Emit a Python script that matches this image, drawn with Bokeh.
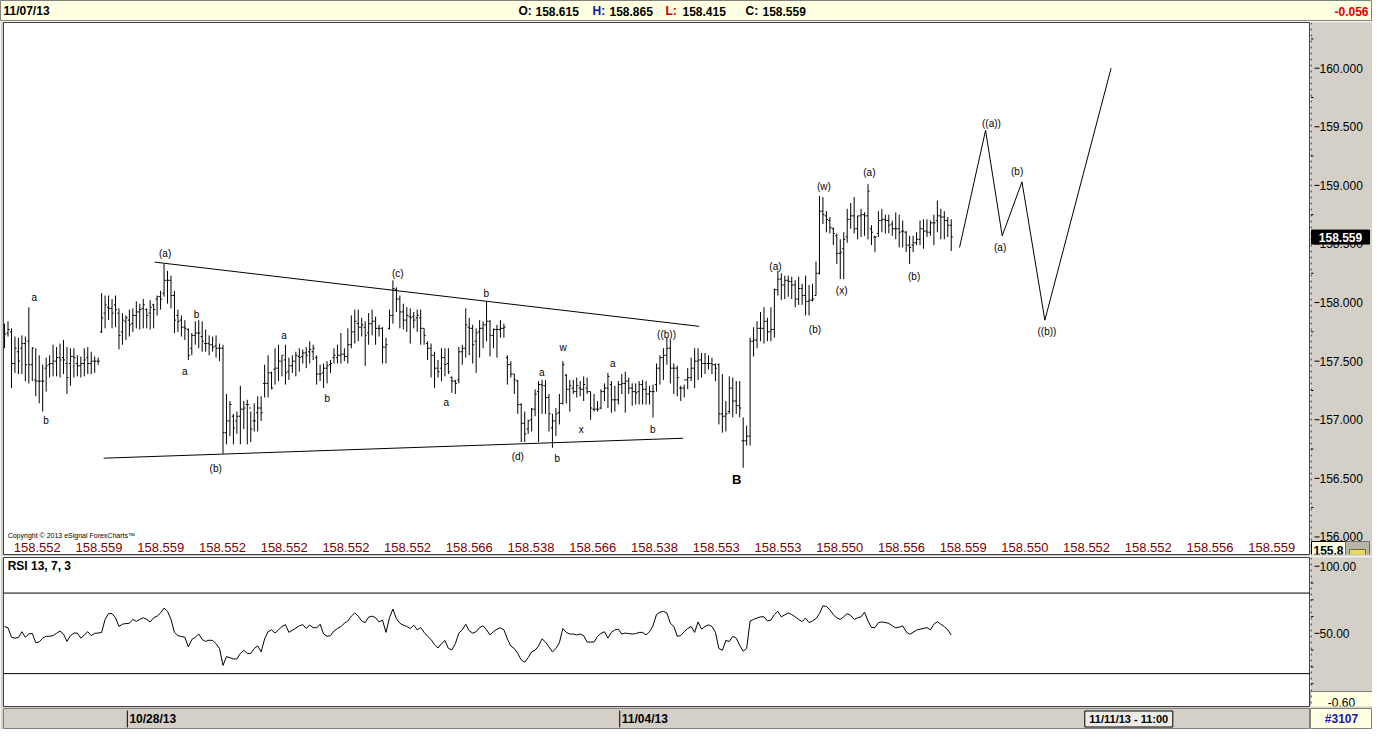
from bokeh.plotting import figure
from bokeh.layouts import column, row
from bokeh.models import Range1d, Span
from bokeh.embed import file_html
from bokeh.resources import INLINE
from bokeh.core.properties import value

# ---------------- data ----------------
opens = [
157.74,157.74,157.75,157.48,157.58,157.61,157.65,157.67,157.47,157.34,
157.33,157.33,157.44,157.47,157.48,157.50,157.53,157.53,157.48,157.48,
157.54,157.48,157.46,157.48,157.53,157.48,157.50,157.50,157.75,157.91,
157.96,157.95,157.98,157.91,157.75,157.84,157.85,157.82,157.89,157.92,
157.95,157.94,157.91,157.98,158.03,158.05,158.08,158.19,158.19,158.06,
157.89,157.85,157.79,157.77,157.61,157.72,157.74,157.71,157.65,157.65,
157.64,157.63,157.61,157.61,156.89,156.99,157.03,156.99,157.03,157.09,
157.13,157.10,156.99,157.06,157.10,157.31,157.31,157.40,157.43,157.44,
157.50,157.51,157.41,157.46,157.50,157.54,157.54,157.57,157.58,157.58,
157.53,157.39,157.40,157.44,157.47,157.53,157.53,157.55,157.56,157.54,
157.64,157.75,157.82,157.79,157.79,157.74,157.82,157.84,157.78,157.78,
157.62,157.78,157.89,158.11,158.03,157.92,157.85,157.88,157.88,157.87,
157.87,157.78,157.65,157.61,157.55,157.44,157.44,157.53,157.48,157.36,
157.33,157.34,157.58,157.61,157.79,157.78,157.67,157.75,157.78,157.81,
157.84,157.72,157.77,157.77,157.78,157.53,157.47,157.39,157.33,157.13,
156.97,156.92,157.00,157.09,157.24,157.30,157.29,157.19,156.93,156.99,
157.06,157.14,157.38,157.26,157.27,157.24,157.27,157.26,157.27,157.24,
157.09,157.09,157.10,157.24,157.27,157.30,157.17,157.17,157.30,157.31,
157.33,157.27,157.24,157.24,157.30,157.26,157.22,157.24,157.30,157.44,
157.53,157.55,157.61,157.44,157.44,157.27,157.27,157.34,157.36,157.44,
157.50,157.51,157.48,157.48,157.48,157.47,157.47,157.05,157.03,157.07,
157.27,157.16,157.12,156.82,156.82,156.86,157.67,157.68,157.78,157.78,
157.84,157.75,157.77,158.11,158.20,158.15,158.19,158.18,158.15,158.03,
158.12,158.06,158.01,158.02,158.06,158.25,158.78,158.74,158.70,158.63,
158.57,158.42,158.46,158.56,158.71,158.74,158.63,158.74,158.75,158.74,
158.63,158.56,158.59,158.70,158.71,158.70,158.67,158.63,158.63,158.61,
158.60,158.49,158.49,158.51,158.54,158.63,158.61,158.60,158.68,158.70,
158.74,158.73,158.70,158.66]

highs = [
157.82,157.84,157.78,157.71,157.70,157.72,157.71,157.96,157.62,157.61,
157.55,157.47,157.53,157.55,157.64,157.62,157.65,157.68,157.62,157.61,
157.61,157.55,157.54,157.61,157.62,157.58,157.54,157.53,158.08,158.06,
158.06,158.03,158.06,157.95,157.91,157.89,157.94,157.95,158.01,157.99,
158.03,157.95,158.02,157.99,158.06,158.10,158.33,158.27,158.23,158.10,
157.94,157.89,157.85,157.78,157.74,157.84,157.85,157.84,157.77,157.72,
157.71,157.72,157.65,157.64,157.22,157.16,157.05,157.07,157.29,157.16,
157.17,157.07,157.14,157.20,157.20,157.47,157.55,157.41,157.61,157.64,
157.55,157.64,157.53,157.55,157.58,157.61,157.60,157.62,157.67,157.64,
157.55,157.47,157.48,157.50,157.51,157.61,157.64,157.74,157.61,157.78,
157.89,157.94,157.94,157.87,157.84,157.91,157.94,157.88,157.81,157.79,
157.70,157.94,158.19,158.13,158.06,157.99,157.96,157.95,157.92,157.94,
157.94,157.78,157.67,157.65,157.58,157.51,157.61,157.61,157.61,157.37,
157.34,157.62,157.64,157.95,157.87,157.81,157.78,157.85,157.84,158.01,
157.85,157.78,157.81,157.85,157.82,157.55,157.50,157.39,157.34,157.14,
157.07,157.00,157.10,157.26,157.33,157.34,157.34,157.22,157.05,157.10,
157.22,157.50,157.39,157.34,157.34,157.36,157.33,157.37,157.36,157.24,
157.22,157.16,157.26,157.31,157.40,157.33,157.29,157.33,157.39,157.41,
157.36,157.31,157.31,157.33,157.34,157.33,157.29,157.30,157.48,157.55,
157.61,157.70,157.68,157.48,157.46,157.29,157.30,157.44,157.53,157.61,
157.61,157.57,157.57,157.55,157.53,157.48,157.48,157.39,157.16,157.37,
157.36,157.33,157.33,157.02,156.95,157.70,157.79,157.84,157.92,157.96,
157.87,157.96,158.12,158.27,158.25,158.23,158.23,158.22,158.19,158.22,
158.16,158.23,158.15,158.16,158.35,158.91,158.90,158.78,158.73,158.64,
158.59,158.54,158.60,158.80,158.85,158.90,158.74,158.80,158.77,159.01,
158.66,158.57,158.78,158.80,158.75,158.75,158.70,158.77,158.75,158.70,
158.61,158.57,158.57,158.60,158.70,158.71,158.71,158.70,158.75,158.87,
158.80,158.78,158.73,158.71]

lows = [
157.61,157.71,157.27,157.40,157.39,157.39,157.33,157.31,157.33,157.20,
157.14,157.07,157.24,157.36,157.37,157.37,157.36,157.39,157.22,157.29,
157.36,157.37,157.36,157.37,157.39,157.39,157.40,157.47,157.74,157.78,
157.85,157.78,157.79,157.60,157.64,157.68,157.71,157.75,157.78,157.77,
157.78,157.78,157.77,157.78,157.89,157.94,158.05,157.99,157.95,157.74,
157.75,157.71,157.68,157.51,157.55,157.64,157.61,157.58,157.58,157.55,
157.58,157.53,157.50,156.71,156.79,156.86,156.79,156.88,156.79,156.92,
156.79,156.81,156.90,156.90,156.99,157.19,157.19,157.26,157.30,157.33,
157.37,157.30,157.34,157.40,157.37,157.41,157.48,157.44,157.48,157.51,
157.30,157.33,157.27,157.31,157.40,157.48,157.48,157.48,157.50,157.48,
157.61,157.65,157.67,157.71,157.46,157.64,157.72,157.64,157.71,157.48,
157.48,157.77,157.82,157.92,157.78,157.77,157.75,157.65,157.78,157.75,
157.64,157.64,157.51,157.36,157.27,157.36,157.33,157.37,157.39,157.23,
157.22,157.31,157.47,157.53,157.55,157.48,157.40,157.53,157.61,157.67,
157.54,157.61,157.53,157.70,157.70,157.30,157.36,157.22,157.05,156.81,
156.81,156.88,156.90,157.03,156.81,157.05,157.05,156.90,156.76,156.86,
156.96,157.13,157.14,157.07,157.22,157.19,157.20,157.16,157.22,157.00,
157.07,157.07,157.09,157.16,157.10,157.06,157.07,157.13,157.22,157.06,
157.22,157.12,157.13,157.13,157.13,157.13,157.13,157.02,157.24,157.30,
157.34,157.47,157.31,157.22,157.20,157.16,157.19,157.26,157.33,157.27,
157.34,157.36,157.39,157.43,157.39,157.33,156.96,156.89,156.90,157.05,
157.02,157.05,157.02,156.59,156.78,156.78,157.54,157.61,157.67,157.65,
157.67,157.67,157.70,158.06,158.02,158.03,158.05,158.03,157.96,157.98,
157.98,157.89,157.89,158.01,158.06,158.24,158.67,158.60,158.59,158.49,
158.33,158.20,158.20,158.51,158.63,158.59,158.54,158.56,158.57,158.54,
158.49,158.43,158.56,158.60,158.59,158.59,158.57,158.54,158.47,158.47,
158.43,158.33,158.43,158.49,158.49,158.46,158.56,158.57,158.49,158.60,
158.54,158.54,158.56,158.44]

closes = [
157.73,157.77,157.48,157.61,157.50,157.65,157.47,157.47,157.61,157.33,
157.33,157.33,157.46,157.48,157.50,157.53,157.51,157.51,157.36,157.54,
157.53,157.46,157.48,157.51,157.48,157.50,157.50,157.50,157.87,157.98,
157.95,157.91,157.94,157.72,157.85,157.87,157.81,157.89,157.92,157.94,
157.98,157.89,157.96,157.94,158.05,158.03,158.19,158.19,158.06,157.85,
157.84,157.79,157.78,157.55,157.72,157.74,157.74,157.67,157.65,157.64,
157.62,157.61,157.61,156.89,156.99,157.13,156.93,157.03,157.09,157.10,
157.13,156.92,156.99,157.10,157.06,157.31,157.40,157.27,157.44,157.50,
157.55,157.40,157.46,157.50,157.55,157.53,157.57,157.55,157.60,157.61,
157.39,157.39,157.44,157.46,157.48,157.55,157.55,157.56,157.54,157.64,
157.75,157.84,157.79,157.81,157.72,157.82,157.84,157.78,157.78,157.62,
157.64,157.89,158.12,158.03,157.92,157.85,157.89,157.87,157.85,157.89,
157.78,157.72,157.61,157.55,157.44,157.41,157.53,157.47,157.41,157.33,
157.31,157.58,157.61,157.81,157.78,157.64,157.74,157.78,157.81,157.84,
157.72,157.77,157.77,157.78,157.79,157.47,157.39,157.34,157.13,156.97,
156.88,156.99,157.09,157.22,157.30,157.29,157.19,157.05,156.99,157.05,
157.14,157.47,157.26,157.29,157.24,157.29,157.26,157.30,157.24,157.10,
157.09,157.09,157.24,157.27,157.37,157.17,157.17,157.30,157.31,157.33,
157.27,157.24,157.23,157.30,157.26,157.22,157.24,157.24,157.44,157.53,
157.55,157.61,157.44,157.44,157.36,157.27,157.34,157.36,157.44,157.50,
157.51,157.48,157.48,157.48,157.47,157.44,157.05,157.03,157.05,157.27,
157.16,157.12,157.10,156.82,156.86,157.67,157.68,157.78,157.78,157.84,
157.75,157.77,158.11,158.20,158.15,158.19,158.18,158.15,158.03,158.12,
158.06,158.01,158.02,158.03,158.25,158.78,158.75,158.71,158.64,158.59,
158.42,158.43,158.54,158.71,158.74,158.63,158.74,158.75,158.74,158.95,
158.60,158.56,158.70,158.71,158.70,158.66,158.63,158.63,158.60,158.61,
158.49,158.47,158.51,158.54,158.63,158.61,158.60,158.68,158.68,158.74,
158.73,158.70,158.66,158.56]

rsi = [
55.1,54.1,47.1,46.4,46.9,51.2,47.1,49.5,50.0,43.0,
43.5,46.4,47.8,47.8,48.3,50.0,51.7,49.5,44.0,48.3,
50.2,50.2,46.4,48.8,51.2,48.3,50.0,50.2,50.7,60.4,
64.7,64.7,61.6,55.1,56.8,57.3,57.5,60.4,58.9,60.4,
61.6,60.4,58.5,61.6,62.8,65.2,68.8,66.4,60.4,50.7,
48.3,47.6,47.1,39.9,45.4,47.1,49.5,45.4,44.0,44.9,
44.7,42.3,38.7,26.1,32.6,31.9,30.9,30.9,35.0,37.4,
35.0,35.0,38.7,40.6,36.2,45.9,51.2,52.6,50.2,52.6,
55.1,56.5,50.7,52.4,53.9,55.6,56.5,53.6,56.1,54.3,
54.1,56.8,49.5,47.8,48.3,51.7,53.6,55.1,57.5,59.2,
62.8,65.2,62.8,59.2,58.0,62.1,62.8,61.6,58.5,59.9,
50.7,61.6,68.1,60.9,57.5,56.1,55.1,53.6,56.1,52.6,
54.3,50.7,47.8,45.4,41.5,39.1,42.3,44.7,38.7,37.7,
42.3,50.2,52.6,56.8,51.9,50.2,51.2,54.3,55.6,52.6,
48.8,51.2,53.1,54.1,52.6,45.9,40.6,38.7,35.0,30.2,
28.5,31.9,36.2,37.4,40.6,45.9,43.5,39.9,36.2,38.7,
43.0,53.6,50.7,49.5,49.5,48.8,49.5,48.3,43.5,43.5,
43.5,47.8,50.0,51.2,46.4,50.7,52.6,53.1,49.5,50.2,
49.8,49.5,49.8,50.7,50.7,48.8,51.2,55.6,64.0,65.7,
66.4,65.2,57.5,55.1,47.8,48.3,51.2,53.6,55.1,50.7,
58.5,53.1,55.1,56.3,55.1,50.7,38.7,37.4,44.7,44.0,
47.8,46.4,41.1,36.7,38.7,59.2,60.4,61.4,62.3,62.3,
59.2,59.9,64.0,66.4,62.3,63.8,65.2,64.0,62.3,60.4,
58.7,61.4,58.0,59.2,60.9,64.7,70.5,70.0,67.6,64.0,
61.4,60.4,62.3,64.7,63.3,60.4,61.6,62.3,65.7,59.2,
54.3,54.3,58.0,58.5,58.0,57.5,55.6,54.1,54.6,55.6,
51.2,49.3,50.7,52.4,53.1,53.6,54.3,52.6,56.8,58.7,
56.8,55.1,52.6,48.8]

# triangle trendlines and wave projection
upper_x = [43.3, 200.3]
upper_y = [158.345, 157.797]
lower_x = [28.6, 195.7]
lower_y = [156.672, 156.842]
proj_x = [275.4, 282.9, 287.7, 293.4, 300.0, 319.1]
proj_y = [158.47, 159.47, 158.57, 159.03, 157.85, 160.00]

wave_text = ["a", "b", "(a)", "b", "a", "(b)", "a", "b", "(c)", "b", "a", "(d)",
             "b", "a", "w", "x", "a", "b", "((b))", "(a)", "(b)", "(w)", "(x)",
             "(a)", "(b)", "((a))", "(a)", "(b)", "((b))"]
wave_x = [8.6, 12.0, 46.3, 55.4, 52.0, 60.9, 80.6, 93.1, 113.4, 138.9, 127.4, 148.0,
          159.4, 154.9, 161.1, 166.3, 175.4, 186.9, 190.9, 222.3, 233.7, 236.3, 241.4,
          249.4, 262.3, 284.6, 287.1, 292.0, 300.6]
wave_y = [158.04, 156.99, 158.42, 157.90, 157.41, 156.58, 157.72, 157.18, 158.25, 158.08,
          157.15, 156.69, 156.67, 157.40, 157.62, 156.92, 157.48, 156.92, 157.73, 158.31,
          157.77, 158.99, 158.10, 159.11, 158.22, 159.53, 158.47, 159.12, 157.75]
big_label = "B"
big_x = 211.1
big_y = 156.49

row_values = ["158.552", "158.559", "158.559", "158.552", "158.552", "158.552", "158.552",
              "158.566", "158.538", "158.566", "158.538", "158.553", "158.553", "158.550",
              "158.556", "158.559", "158.550", "158.552", "158.552", "158.556", "158.559"]

price_ticks = [156.0, 156.5, 157.0, 157.5, 158.0, 158.5, 159.0, 159.5, 160.0]
price_minor = [156.25, 156.75, 157.25, 157.75, 158.25, 158.75, 159.25, 159.75, 160.25]
rsi_ticks = [50, 100]
rsi_minor = [12.5, 25, 37.5, 62.5, 75, 87.5]
rsi_levels = [80, 20]
date_ticks = [35.4, 177.4]
date_labels = ["10/28/13", "11/04/13"]

last_price = 158.559
scale_min_price = "155.8"
scale_min_rsi = "-0.60"
bar_count_label = "#3107"
cursor_label = "11/11/13 - 11:00"
cursor_x = 324.2
header_date = "11/07/13"
ohlc_text = [("O:", "158.615"), ("H:", "158.865"), ("L:", "158.415"), ("C:", "158.559")]
change_text = "-0.056"

# ---------------- styling ----------------
W = 1372
AXW = 62
LW = W - AXW
GRAY = "#d4d0c8"
CREAM = "#ffffe1"
FONT = "Liberation Sans"
LEFT = 3
MAIN_H = 535
RSI_H = 152
BAR_H = 21


def base(width, height, xr, yr, **kw):
    p = figure(width=width, height=height, x_range=xr, y_range=yr,
               x_axis_location=None, y_axis_location=None, toolbar_location=None,
               output_backend="svg", title=None, **kw)
    p.grid.visible = False
    return p


def txt(p, x, y, t, size="12px", color="black", style="normal", align="left", baseline="middle"):
    p.text(x=x, y=y, text=t, text_font=value(FONT), text_font_size=size, text_color=color,
           text_font_style=style, text_align=align, text_baseline=baseline)


idx = list(range(len(highs)))
xr = Range1d(-0.3, 376.6)
pr = Range1d(155.85, 160.39)
rr = Range1d(-4.5, 106.5)

# ---- header bar ----
hd = base(W, BAR_H, Range1d(0, W), Range1d(0, BAR_H), min_border=0)
hd.background_fill_color = CREAM
hd.border_fill_color = CREAM
hd.outline_line_color = "#808080"
txt(hd, [3], [10.5], [header_date], style="bold")
lab_pos = [518, 592, 665, 745]
lab_col = ["#000000", "#1010b0", "#c00000", "#000000"]
for (k, v), px, c in zip(ohlc_text, lab_pos, lab_col):
    txt(hd, [px], [10.5], [k], color=c, style="bold")
    txt(hd, [px + 17], [10.5], [v], style="bold")
txt(hd, [1368], [10.5], [change_text], color="#e00000", style="bold", align="right")

# ---- main price panel ----
mp = base(LW, MAIN_H, xr, pr, min_border_left=LEFT, min_border_right=0,
          min_border_top=1, min_border_bottom=2)
mp.background_fill_color = "#ffffff"
mp.border_fill_color = GRAY
mp.outline_line_color = "#404040"

mp.segment(x0=idx, y0=lows, x1=idx, y1=highs, line_color="black", line_width=1)
mp.segment(x0=[i - 0.45 for i in idx], y0=opens, x1=idx, y1=opens, line_color="black", line_width=1)
mp.segment(x0=idx, y0=closes, x1=[i + 0.45 for i in idx], y1=closes, line_color="black", line_width=1)

mp.line(upper_x, upper_y, line_color="black", line_width=1)
mp.line(lower_x, lower_y, line_color="black", line_width=1)
mp.line(proj_x, proj_y, line_color="black", line_width=1)

txt(mp, wave_x, wave_y, wave_text, size="10px", align="center")
txt(mp, [big_x], [big_y], [big_label], size="13px", style="bold", align="center")

row_x = [9.43 + 17.8 * k for k in range(len(row_values))]
txt(mp, row_x, [155.91] * len(row_values), row_values, size="13px", color="#800000", align="center")
txt(mp, [0.9], [156.01], ["Copyright \u00a9 2013 eSignal ForexCharts\u2122"], size="7px")

# ---- price scale column ----
pa = base(AXW, MAIN_H, Range1d(0, AXW), pr, min_border_left=0, min_border_right=0,
          min_border_top=1, min_border_bottom=2)
pa.background_fill_color = GRAY
pa.border_fill_color = GRAY
pa.outline_line_color = None
pa.add_layout(Span(location=0.5, dimension="height", line_color="black", line_dash="dotted", line_width=1))
pa.segment(x0=[4] * len(price_ticks), y0=price_ticks, x1=[9] * len(price_ticks), y1=price_ticks,
           line_color="black", line_width=1)
pa.segment(x0=[0.5] * len(price_minor), y0=price_minor, x1=[3] * len(price_minor), y1=price_minor,
           line_color="black", line_width=1)
txt(pa, [9] * len(price_ticks), price_ticks, ["%.3f" % t for t in price_ticks])
pa.rect(x=[30], y=[last_price], width=[58], height=[14], height_units="screen",
        fill_color="black", line_color="black")
txt(pa, [30], [last_price], ["%.3f" % last_price], color="white", style="bold", align="center")
pa.rect(x=[18], y=[pr.start], width=[34], height=[26], height_units="screen",
        fill_color=CREAM, line_color="black")
txt(pa, [3], [pr.start], [scale_min_price], style="bold", baseline="bottom")
pa.rect(x=[47], y=[pr.start], width=[24], height=[26], height_units="screen",
        fill_color="#b8b4a8", line_color="#707070")
pa.rect(x=[47], y=[pr.start], width=[16], height=[10], height_units="screen",
        fill_color="#e8d860", line_color="#607040")

# ---- RSI panel ----
rp = base(LW, RSI_H, xr, rr, min_border_left=LEFT, min_border_right=0,
          min_border_top=1, min_border_bottom=2)
rp.background_fill_color = "#ffffff"
rp.border_fill_color = GRAY
rp.outline_line_color = "#404040"
for lv in rsi_levels:
    rp.add_layout(Span(location=lv, dimension="width", line_color="black", line_width=1))
rp.line(idx, rsi, line_color="black", line_width=1)
txt(rp, [0.9], [100], ["RSI 13, 7, 3"], style="bold")

ra = base(AXW, RSI_H, Range1d(0, AXW), rr, min_border_left=0, min_border_right=0,
          min_border_top=1, min_border_bottom=2)
ra.background_fill_color = GRAY
ra.border_fill_color = GRAY
ra.outline_line_color = None
ra.add_layout(Span(location=0.5, dimension="height", line_color="black", line_dash="dotted", line_width=1))
ra.segment(x0=[4] * len(rsi_ticks), y0=rsi_ticks, x1=[9] * len(rsi_ticks), y1=rsi_ticks,
           line_color="black", line_width=1)
ra.segment(x0=[0.5] * len(rsi_minor), y0=rsi_minor, x1=[3] * len(rsi_minor), y1=rsi_minor,
           line_color="black", line_width=1)
txt(ra, [9] * len(rsi_ticks), rsi_ticks, ["%.2f" % t for t in rsi_ticks])
ra.rect(x=[31], y=[rr.start], width=[62], height=[30], height_units="screen",
        fill_color=CREAM, line_color="#808080")
txt(ra, [31], [rr.start], [scale_min_rsi], align="center", baseline="bottom")

# ---- date bar ----
dp = base(LW, BAR_H, xr, Range1d(0, 1), min_border_left=LEFT, min_border_right=0,
          min_border_top=0, min_border_bottom=0)
dp.background_fill_color = GRAY
dp.border_fill_color = GRAY
dp.outline_line_color = "#808080"
dp.segment(x0=date_ticks, y0=[0.1] * 2, x1=date_ticks, y1=[0.9] * 2, line_color="black")
txt(dp, [d + 0.6 for d in date_ticks], [0.5] * 2, date_labels, style="bold")
dp.rect(x=[cursor_x], y=[0.5], width=[88], height=[16], width_units="screen", height_units="screen",
        fill_color="#ecebe6", line_color="black")
txt(dp, [cursor_x], [0.5], [cursor_label], size="11px", style="bold", align="center")

da = base(AXW, BAR_H, Range1d(0, AXW), Range1d(0, 1), min_border=0)
da.background_fill_color = CREAM
da.border_fill_color = GRAY
da.outline_line_color = "#808080"
txt(da, [31], [0.5], [bar_count_label], color="#1818a8", style="bold", align="center")

layout = column(hd, row(mp, pa, spacing=0), row(rp, ra, spacing=0), row(dp, da, spacing=0), spacing=0)
open("out.html", "w").write(file_html(layout, INLINE))
